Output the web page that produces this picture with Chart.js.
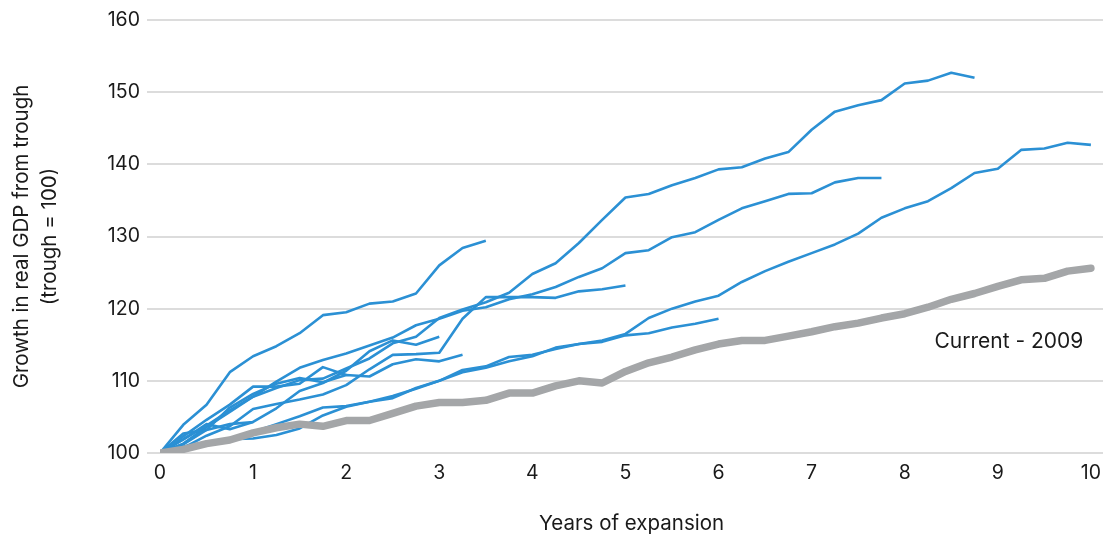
<!DOCTYPE html>
<html>
<head>
<meta charset="utf-8">
<script src="https://cdn.jsdelivr.net/npm/chart.js@4/dist/chart.umd.min.js"></script>
<style>
    html, body { margin: 0; padding: 0; background: #fff; }
    #wrap { width: 1116px; height: 538px; }
</style>
</head>
<body>
<div id="wrap"><canvas id="chart-1" width="1116" height="538"></canvas></div>
<script>
// x values: years of expansion, one point per quarter
const years = Array.from({length: 41}, (_, i) => i / 4);
const xTicks = [0, 1, 2, 3, 4, 5, 6, 7, 8, 9, 10];
const yTicks = [100, 110, 120, 130, 140, 150, 160];

// Current expansion (2009 trough)
const current2009 = [100, 100.5, 101.3, 101.8, 102.8, 103.5, 104.0, 103.7, 104.5, 104.5, 105.5, 106.5, 107.0, 107.0,
    107.3, 108.3, 108.3, 109.3, 110.0, 109.7, 111.3, 112.5, 113.3, 114.3, 115.1, 115.6, 115.6, 116.2, 116.8,
    117.5, 118.0, 118.7, 119.3, 120.2, 121.3, 122.1, 123.1, 124.0, 124.2, 125.2, 125.6];

// Past expansions
const exp1949 = [100, 103.9, 106.7, 111.2, 113.4, 114.8, 116.6, 119.1, 119.5, 120.7, 121.0, 122.1, 126.0, 128.4, 129.4];
const exp1954 = [100, 101.2, 103.2, 106.3, 108.2, 109.6, 110.4, 109.8, 110.8, 110.6, 112.3, 113.0, 112.7, 113.6];
const exp1958 = [100, 102.3, 104.6, 106.7, 109.2, 109.2, 109.6, 111.9, 110.8];
const exp1961 = [100, 101.9, 103.8, 105.9, 107.8, 109.0, 110.1, 110.3, 111.7, 113.1, 115.2, 116.1, 118.7, 119.9,
    120.9, 122.2, 124.8, 126.3, 129.1, 132.3, 135.4, 135.9, 137.1, 138.1, 139.3, 139.6, 140.8, 141.7, 144.8,
    147.3, 148.2, 148.9, 151.2, 151.6, 152.7, 152.0];
const exp1970 = [100, 102.7, 103.2, 104.0, 104.3, 106.2, 108.6, 109.7, 111.4, 114.1, 115.6, 115.0, 116.1];
const exp1975 = [100, 100.7, 102.4, 103.7, 106.1, 106.8, 107.4, 108.1, 109.4, 111.6, 113.6, 113.7, 113.9, 118.6,
    121.6, 121.6, 121.6, 121.5, 122.4, 122.7, 123.2];
const exp1980 = [100, 101.9, 104.0, 103.3, 104.3];
const exp1982 = [100, 101.3, 103.6, 105.7, 107.8, 109.9, 111.8, 112.9, 113.8, 114.9, 116.0, 117.7, 118.6, 119.7,
    120.2, 121.3, 122.0, 123.0, 124.4, 125.6, 127.7, 128.1, 129.9, 130.6, 132.3, 133.9, 134.9, 135.9, 136.0,
    137.5, 138.1, 138.1];
const exp1991 = [100, 100.8, 101.3, 101.7, 102.9, 104.0, 105.1, 106.3, 106.5, 107.1, 107.6, 109.0, 110.0, 111.5,
    112.0, 113.3, 113.6, 114.4, 115.1, 115.6, 116.5, 118.7, 120.0, 121.0, 121.8, 123.7, 125.2, 126.5, 127.7,
    128.9, 130.4, 132.6, 133.9, 134.9, 136.7, 138.8, 139.4, 142.0, 142.2, 143.0, 142.7];
const exp2001 = [100, 100.9, 101.5, 101.9, 102.0, 102.5, 103.4, 105.2, 106.4, 107.1, 107.9, 108.9, 110.0, 111.2,
    111.8, 112.7, 113.4, 114.6, 115.1, 115.4, 116.3, 116.6, 117.4, 117.9, 118.6];

const pastExpansions = [exp1949, exp1954, exp1958, exp1961, exp1970, exp1975, exp1980, exp1982, exp1991, exp2001];

const BLUE = '#2b90d4';
const GREY = '#a4a6a8';
const FONT = 'Inter, "Noto Sans", sans-serif';

function toPoints(values) {
    return values.map((v, i) => ({x: years[i], y: v}));
}

// Nhãn "Current - 2009" cạnh đường xám
const currentLabel = {
    id: 'currentLabel',
    afterDatasetsDraw(chart) {
        const {ctx, scales: {x, y}} = chart;
        ctx.save();
        ctx.font = '21px ' + FONT;
        ctx.fillStyle = '#1a1a1a';
        ctx.textAlign = 'left';
        ctx.textBaseline = 'middle';
        ctx.fillText('Current - 2009', x.getPixelForValue(8.32), y.getPixelForValue(115.4));
        ctx.restore();
    }
};

const datasets = [{
    label: 'Current - 2009',
    data: toPoints(current2009),
    borderColor: GREY,
    borderWidth: 7.5,
    borderCapStyle: 'round',
    borderJoinStyle: 'round',
    pointRadius: 0,
    tension: 0
}].concat(pastExpansions.map(values => ({
    data: toPoints(values),
    borderColor: BLUE,
    borderWidth: 2.6,
    borderJoinStyle: 'round',
    pointRadius: 0,
    tension: 0
})));

const ctx = document.getElementById('chart-1').getContext('2d');

new Chart(ctx, {
    type: 'line',
    data: {datasets: datasets},
    options: {
        responsive: false,
        animation: false,
        layout: {padding: {top: 20, right: 13, bottom: 0, left: 0}},
        plugins: {
            legend: {display: false},
            tooltip: {enabled: false}
        },
        scales: {
            x: {
                type: 'linear',
                min: 0,
                max: 10.13,
                grid: {display: false},
                border: {display: false},
                afterBuildTicks: scale => {
                    scale.ticks = xTicks.map(v => ({value: v}));
                },
                afterFit: scale => { scale.height = 85; },
                ticks: {
                    padding: 0,
                    maxRotation: 0,
                    autoSkip: false,
                    color: '#1a1a1a',
                    font: {family: FONT, size: 19.5}
                },
                title: {
                    display: true,
                    text: 'Years of expansion',
                    color: '#1a1a1a',
                    padding: {top: 0, bottom: 2},
                    font: {family: FONT, size: 20.5}
                }
            },
            y: {
                min: 100,
                max: 160,
                afterBuildTicks: scale => {
                    scale.ticks = yTicks.map(v => ({value: v}));
                },
                afterFit: scale => { scale.width = 160; },
                border: {display: false},
                grid: {
                    color: '#dcdcdc',
                    lineWidth: 2,
                    tickLength: 13
                },
                ticks: {
                    padding: 7,
                    color: '#1a1a1a',
                    font: {family: FONT, size: 19.5}
                },
                title: {
                    display: true,
                    text: ['Growth in real GDP from trough', '(trough = 100)'],
                    color: '#1a1a1a',
                    padding: {top: 8, bottom: 0},
                    font: {family: FONT, size: 20.5, lineHeight: '28px'}
                }
            }
        }
    },
    plugins: [currentLabel]
});
</script>
</body>
</html>
